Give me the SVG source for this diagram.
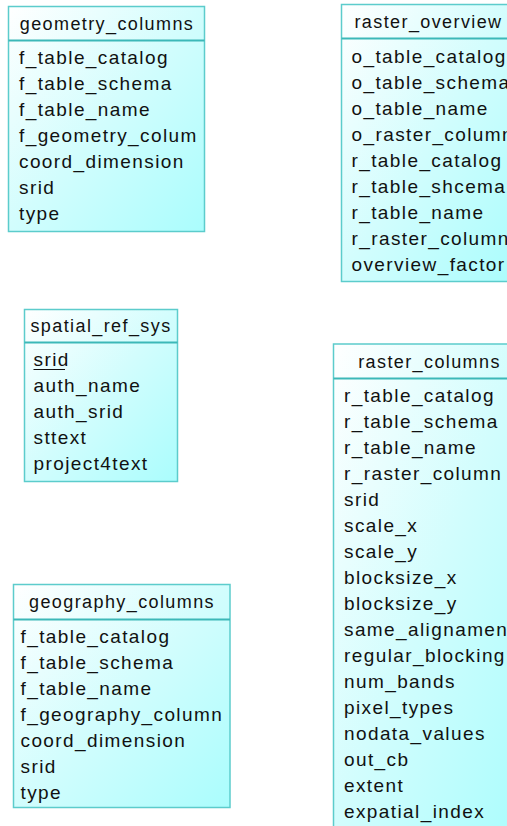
<svg xmlns="http://www.w3.org/2000/svg" width="507" height="826" viewBox="0 0 507 826">
<defs>
<linearGradient id="fill" x1="0" y1="0" x2="1" y2="1">
<stop offset="0" stop-color="#ffffff"/>
<stop offset="0.5" stop-color="#d2fdfd"/>
<stop offset="1" stop-color="#aafdfd"/>
</linearGradient>
<style>
.box{fill:url(#fill);stroke:#5ccccc;stroke-width:1.5}
.div{stroke:#3cb8b8;stroke-width:2}
text{font-family:"Liberation Sans",Arial,sans-serif;font-size:19px;letter-spacing:1.4px;fill:#111111}
.h{text-anchor:middle;font-size:18px}
</style>
</defs>
<rect width="507" height="826" fill="#ffffff"/>
<g id="connectors"></g>

<g id="geometry_columns">
<rect class="box" x="8.5" y="6.5" width="196" height="225"/>
<line class="div" x1="8.5" y1="40.5" x2="204.5" y2="40.5"/>
<text class="h" x="107" y="30">geometry_columns</text>
<text x="19" y="64">f_table_catalog</text>
<text x="19" y="90">f_table_schema</text>
<text x="19" y="116">f_table_name</text>
<text x="19" y="142">f_geometry_colum</text>
<text x="19" y="168">coord_dimension</text>
<text x="19" y="194">srid</text>
<text x="19" y="220">type</text>
</g>

<g id="raster_overview">
<rect class="box" x="341.5" y="4.5" width="174" height="277"/>
<line class="div" x1="341.5" y1="38.5" x2="515.5" y2="38.5"/>
<text class="h" x="428.5" y="28">raster_overview</text>
<text x="351.5" y="63">o_table_catalog</text>
<text x="351.5" y="89">o_table_schema</text>
<text x="351.5" y="115">o_table_name</text>
<text x="351.5" y="141">o_raster_column</text>
<text x="351.5" y="167">r_table_catalog</text>
<text x="351.5" y="193">r_table_shcema</text>
<text x="351.5" y="219">r_table_name</text>
<text x="351.5" y="245">r_raster_column</text>
<text x="351.5" y="271">overview_factor</text>
</g>

<g id="spatial_ref_sys">
<rect class="box" x="24.5" y="309.5" width="153" height="172"/>
<line class="div" x1="24.5" y1="342.5" x2="177.5" y2="342.5"/>
<text class="h" x="101" y="332">spatial_ref_sys</text>
<text x="33.5" y="366">srid</text>
<line x1="33.5" y1="369.5" x2="65" y2="369.5" stroke="#111111" stroke-width="1"/>
<text x="33.5" y="392">auth_name</text>
<text x="33.5" y="418">auth_srid</text>
<text x="33.5" y="444">sttext</text>
<text x="33.5" y="470">project4text</text>
</g>

<g id="raster_columns">
<rect class="box" x="333.5" y="344" width="192" height="490"/>
<line class="div" x1="333.5" y1="378.5" x2="525.5" y2="378.5"/>
<text class="h" x="429.5" y="368">raster_columns</text>
<text x="344" y="402">r_table_catalog</text>
<text x="344" y="428">r_table_schema</text>
<text x="344" y="454">r_table_name</text>
<text x="344" y="480">r_raster_column</text>
<text x="344" y="506">srid</text>
<text x="344" y="532">scale_x</text>
<text x="344" y="558">scale_y</text>
<text x="344" y="584">blocksize_x</text>
<text x="344" y="610">blocksize_y</text>
<text x="344" y="636">same_alignament</text>
<text x="344" y="662">regular_blocking</text>
<text x="344" y="688">num_bands</text>
<text x="344" y="714">pixel_types</text>
<text x="344" y="740">nodata_values</text>
<text x="344" y="766">out_cb</text>
<text x="344" y="792">extent</text>
<text x="344" y="818">expatial_index</text>
</g>

<g id="geography_columns">
<rect class="box" x="13.5" y="584.5" width="216.5" height="223"/>
<line class="div" x1="13.5" y1="619.5" x2="230" y2="619.5"/>
<text class="h" x="122" y="608">geography_columns</text>
<text x="20.5" y="643">f_table_catalog</text>
<text x="20.5" y="669">f_table_schema</text>
<text x="20.5" y="695">f_table_name</text>
<text x="20.5" y="721">f_geography_column</text>
<text x="20.5" y="747">coord_dimension</text>
<text x="20.5" y="773">srid</text>
<text x="20.5" y="799">type</text>
</g>
</svg>
